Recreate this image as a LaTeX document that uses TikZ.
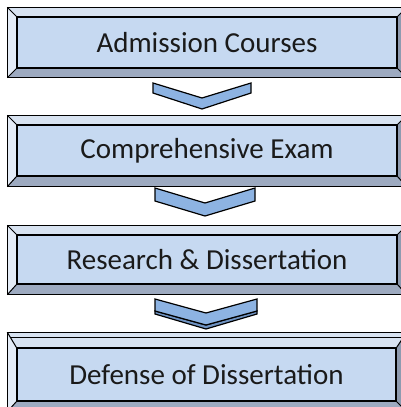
\documentclass[tikz,border=0pt]{standalone}
\usepackage{fontspec}
\setmainfont{Carlito}
\usetikzlibrary{calc,backgrounds}
\definecolor{facec}{HTML}{C6D9F1}
\definecolor{topc}{HTML}{D8E3F1}
\definecolor{leftc}{HTML}{E4ECF7}
\definecolor{botc}{HTML}{9DAAC0}
\definecolor{rightc}{HTML}{8E9BB0}
\definecolor{chevc}{HTML}{8DB3E2}
\definecolor{chevd}{HTML}{6F93C2}
\definecolor{txtc}{HTML}{1A1A1A}
\tikzset{
  face/.style={draw=black, line width=1.4pt, fill=facec, inner sep=0pt,
    font=\fontsize{29}{34}\selectfont, text=txtc, anchor=center},
  bev/.style={draw=black, line width=1pt, line join=miter},
  outer/.style={draw=black, line width=1.5pt},
  chev/.style={draw=black, line width=1.2pt, fill=chevc, line join=miter},
}
% #1 node name, #2 left, #3 top, #4 right, #5 bottom offsets (pt)
\newcommand\bevelbox[5]{%
  \coordinate (#1nw) at (#1.north west);
  \coordinate (#1ne) at (#1.north east);
  \coordinate (#1se) at (#1.south east);
  \coordinate (#1sw) at (#1.south west);
  \coordinate (#1onw) at ($(#1.north west)+(-#2pt,#3pt)$);
  \coordinate (#1one) at ($(#1.north east)+(#4pt,#3pt)$);
  \coordinate (#1ose) at ($(#1.south east)+(#4pt,-#5pt)$);
  \coordinate (#1osw) at ($(#1.south west)+(-#2pt,-#5pt)$);
  \fill[topc] (#1onw) -- (#1one) -- (#1ne) -- (#1nw) -- cycle;
  \fill[leftc] (#1onw) -- (#1nw) -- (#1sw) -- (#1osw) -- cycle;
  \fill[botc] (#1sw) -- (#1se) -- (#1ose) -- (#1osw) -- cycle;
  \fill[rightc] (#1ne) -- (#1one) -- (#1ose) -- (#1se) -- cycle;
  \draw[bev] (#1onw) -- (#1nw) (#1one) -- (#1ne) (#1ose) -- (#1se) (#1osw) -- (#1sw);
  \draw[outer] (#1onw) rectangle (#1ose);
}
\begin{document}
\begin{tikzpicture}[x=1pt,y=-1pt]
\useasboundingbox (0,0) rectangle (401,407);
\clip (0,0) rectangle (401,407);
\node[face, minimum width=380pt, minimum height=51pt] (b1) at (207,42.5) {Admission Courses};
\node[face, minimum width=380pt, minimum height=51pt] (b2) at (207,150.5) {Comprehensive Exam};
\node[face, minimum width=380pt, minimum height=49pt] (b3) at (207,259.5) {Research \& Dissertation};
\node[face, minimum width=379pt, minimum height=53pt] (b4) at (206.5,374.5) {Defense of Dissertation};
\begin{pgfonlayer}{background}
\fill[white] (0,0) rectangle (401,407);
\bevelbox{b1}{9}{9}{9}{9}
\bevelbox{b2}{9}{9}{9}{10}
\bevelbox{b3}{9}{9}{9}{10}
\bevelbox{b4}{9}{15}{10}{10}
\draw[black, line width=0.5pt] ($(b4onw)+(4pt,-5pt)$) -- ($(b4one)+(-4pt,-5pt)$);
\end{pgfonlayer}
% chevrons
\coordinate (c1) at (202,83);
\draw[chev] (c1) ++(-49,0) -- ++(49,15) -- ++(49,-15) -- ++(0,10) -- ++(-49,16) -- ++(-49,-16) -- cycle;
\coordinate (c2) at (205,188);
\draw[chev] (c2) ++(-50,0) -- ++(50,15) -- ++(50,-15) -- ++(0,13) -- ++(-50,15) -- ++(-50,-15) -- cycle;
\coordinate (c3) at (206,299);
\draw[chev, fill=chevd] (c3) ++(-51,12) -- ++(51,14) -- ++(51,-14) -- ++(0,3) -- ++(-51,15) -- ++(-51,-15) -- cycle;
\draw[chev] (c3) ++(-51,0) -- ++(51,14) -- ++(51,-14) -- ++(0,12) -- ++(-51,14) -- ++(-51,-14) -- cycle;
\end{tikzpicture}
\end{document}
